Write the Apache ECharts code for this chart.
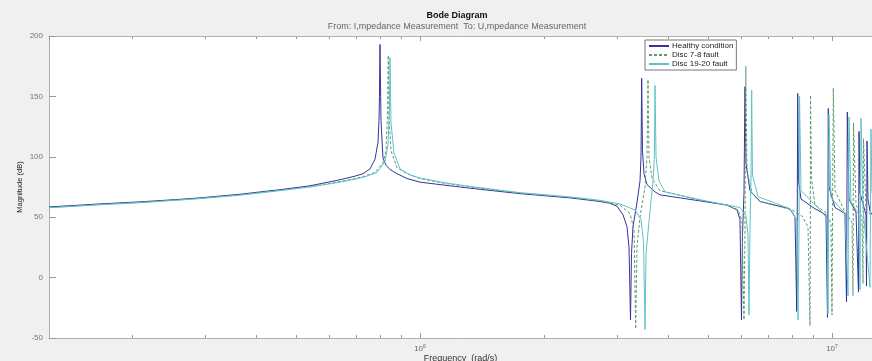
<!DOCTYPE html>
<html>
<head>
<meta charset="utf-8">
<script src="https://cdn.jsdelivr.net/npm/echarts@6/dist/echarts.min.js"></script>
<style>
  html, body { margin: 0; padding: 0; background: #f0f0f0; }
  #chart { width: 872px; height: 361px; }
</style>
</head>
<body>
<div id="chart"></div>
<script>
// [frequency (rad/s), magnitude (dB)]
const healthy = [
  [1.258e5, 58.5], [1.672e5, 61], [2.091e5, 62.7], [2.615e5, 64.8], [2.924e5, 66],
  [3.658e5, 69], [4.574e5, 72.8], [5.407e5, 76], [6.395e5, 81], [6.954e5, 84],
  [7.272e5, 86], [7.562e5, 90], [7.776e5, 98], [7.908e5, 112], [7.952e5, 130],
  [7.974e5, 150], [7.996e5, 193], [8.041e5, 130], [8.131e5, 99], [8.269e5, 93],
  [8.456e5, 89.5], [8.794e5, 86], [9.300e5, 82], [1.000e6, 79], [1.150e6, 76.5],
  [1.323e6, 74], [1.749e6, 69.5], [2.313e6, 66], [2.734e6, 63], [2.892e6, 61.5],
  [3.008e6, 59], [3.110e6, 52], [3.180e6, 42], [3.216e6, 25], [3.243e6, -35],
  [3.261e6, 20], [3.288e6, 42], [3.362e6, 62], [3.420e6, 80], [3.439e6, 100],
  [3.452e6, 165], [3.468e6, 105], [3.497e6, 86], [3.556e6, 77], [3.719e6, 71],
  [3.824e6, 68.5], [4.782e6, 63.5], [5.563e6, 60], [5.883e6, 56], [5.979e6, 48],
  [6.030e6, -35], [6.064e6, 35], [6.115e6, 70], [6.149e6, 158], [6.183e6, 95],
  [6.323e6, 72], [6.687e6, 63], [7.908e6, 57], [8.132e6, 50], [8.210e6, -28],
  [8.233e6, 45], [8.256e6, 152.5], [8.293e6, 80], [8.410e6, 65], [9.093e6, 57],
  [9.670e6, 52], [9.751e6, -33], [9.795e6, 140], [9.834e6, 75], [1.0169e7, 58],
  [1.0754e7, 53], [1.0844e7, -20], [1.0893e7, 137], [1.0997e7, 65], [1.1436e7, 54],
  [1.1596e7, -12], [1.1629e7, 121], [1.1694e7, 70], [1.2093e7, 52], [1.2127e7, -7],
  [1.2161e7, 113], [1.2229e7, 65], [1.2366e7, 55], [1.2505e7, 52]
];

const disc78 = [
  [1.258e5, 58], [1.672e5, 60.5], [2.091e5, 62.3], [2.615e5, 64.4], [2.924e5, 65.6],
  [3.658e5, 68.5], [4.574e5, 72.2], [5.407e5, 75.2], [6.395e5, 79.5], [6.954e5, 82],
  [7.272e5, 83.5], [7.776e5, 87], [8.131e5, 95], [8.269e5, 105], [8.339e5, 135],
  [8.376e5, 184], [8.409e5, 135], [8.503e5, 105], [8.794e5, 91], [9.300e5, 86],
  [1.000e6, 82], [1.150e6, 78], [1.323e6, 75], [1.749e6, 70], [2.313e6, 66.5],
  [2.734e6, 63.5], [3.058e6, 60], [3.234e6, 53], [3.307e6, 40], [3.338e6, -42.5],
  [3.362e6, 25], [3.420e6, 50], [3.517e6, 75], [3.556e6, 100], [3.576e6, 164],
  [3.596e6, 100], [3.657e6, 82], [3.824e6, 72], [4.782e6, 64], [5.563e6, 60],
  [5.915e6, 56], [6.047e6, 47], [6.115e6, -35], [6.149e6, 40], [6.176e6, 175],
  [6.218e6, 88], [6.394e6, 70], [6.687e6, 63], [7.997e6, 56], [8.457e6, 51],
  [8.745e6, 42], [8.843e6, -40], [8.858e6, 35], [8.868e6, 151], [8.918e6, 82],
  [9.093e6, 60], [9.670e6, 54], [9.944e6, 45], [1.000e7, -31], [1.0073e7, 157],
  [1.0169e7, 72], [1.0754e7, 54], [1.1183e7, 46], [1.1245e7, -15], [1.1277e7, 128],
  [1.1436e7, 60], [1.1825e7, 50], [1.1892e7, -5], [1.1925e7, 115], [1.2093e7, 56],
  [1.2505e7, 51]
];

const disc1920 = [
  [1.258e5, 57.8], [1.672e5, 60.3], [2.091e5, 62], [2.615e5, 64.2], [2.924e5, 65.4],
  [3.658e5, 68.2], [4.574e5, 72], [5.407e5, 75], [6.395e5, 79], [6.954e5, 81.5],
  [7.272e5, 83], [7.864e5, 87], [8.222e5, 96], [8.362e5, 110], [8.432e5, 140],
  [8.456e5, 182], [8.503e5, 128], [8.647e5, 103], [8.943e5, 90], [9.457e5, 85],
  [1.000e6, 82.5], [1.150e6, 78.5], [1.323e6, 75.5], [1.749e6, 70.3], [2.313e6, 66.8],
  [2.734e6, 64], [3.058e6, 61], [3.325e6, 56], [3.439e6, 48], [3.487e6, 30],
  [3.517e6, -43], [3.536e6, 20], [3.616e6, 55], [3.678e6, 80], [3.705e6, 100],
  [3.719e6, 159], [3.740e6, 100], [3.803e6, 80], [3.933e6, 71], [4.782e6, 64.5],
  [5.979e6, 58], [6.183e6, 51], [6.253e6, 35], [6.288e6, -31], [6.323e6, 40],
  [6.358e6, 80], [6.383e6, 155], [6.412e6, 85], [6.612e6, 67], [7.908e6, 57],
  [8.224e6, 47], [8.270e6, -35], [8.317e6, 40], [8.340e6, 150], [8.410e6, 72],
  [9.352e6, 56], [9.724e6, 49], [9.779e6, -30], [9.834e6, 135], [9.944e6, 66],
  [1.0754e7, 53], [1.0935e7, -15], [1.0997e7, 133], [1.1120e7, 63], [1.1629e7, 52],
  [1.1694e7, -10], [1.1760e7, 132], [1.1892e7, 58], [1.2366e7, -8], [1.2435e7, 123],
  [1.2505e7, 70]
];

const seriesNames = ['Healthy condition', 'Disc 7-8 fault', 'Disc 19-20 fault'];
const yTicks = [-50, 200, 50];           // min, max, step
const xRange = [1.2575e5, 1.2505e7];
const minorTicks = [2e5, 3e5, 4e5, 5e5, 6e5, 7e5, 8e5, 9e5, 2e6, 3e6, 4e6, 5e6, 6e6, 7e6, 8e6, 9e6];

const FONT = '"Liberation Sans", Arial, sans-serif';
const chart = echarts.init(document.getElementById('chart'));

const logAxis = {
  type: 'log',
  logBase: 10,
  min: xRange[0],
  max: xRange[1],
  splitLine: { show: false }
};

const option = {
  animation: false,
  backgroundColor: '#f0f0f0',
  textStyle: { fontFamily: FONT },
  title: {
    text: 'Bode Diagram',
    subtext: 'From: I,mpedance Measurement  To: U,mpedance Measurement',
    left: 457,
    top: 11,
    textAlign: 'center',
    itemGap: 2,
    padding: 0,
    textStyle: { fontSize: 9, fontWeight: 'bold', color: '#111', fontFamily: FONT },
    subtextStyle: { fontSize: 9, color: '#666', fontFamily: FONT }
  },
  legend: {
    data: seriesNames,
    orient: 'vertical',
    left: 645,
    top: 40,
    itemWidth: 20,
    itemHeight: 7,
    itemGap: 1,
    padding: [2, 3, 2, 3],
    backgroundColor: '#fff',
    borderColor: '#777',
    borderWidth: 1,
    borderRadius: 0,
    itemStyle: { opacity: 0 },
    textStyle: { fontSize: 8, color: '#222', fontFamily: FONT, padding: [0, 0, 0, -2] }
  },
  grid: {
    show: true,
    left: 49,
    top: 36,
    right: 0,
    height: 302,
    containLabel: false,
    outerBoundsMode: 'none',
    backgroundColor: '#fff',
    borderWidth: 0
  },
  xAxis: [
    Object.assign({}, logAxis, {
      position: 'bottom',
      name: 'Frequency  (rad/s)',
      nameLocation: 'middle',
      nameGap: 16,
      nameMoveOverlap: false,
      nameTextStyle: { fontSize: 9, color: '#333', fontFamily: FONT },
      axisLine: { onZero: false, lineStyle: { color: '#b0b0b0' } },
      axisTick: { inside: true, length: 5, lineStyle: { color: '#999' } },
      axisLabel: {
        margin: 6,
        showMinLabel: false,
        showMaxLabel: false,
        color: '#666',
        fontSize: 8,
        formatter: v => '10{sup|' + Math.round(Math.log10(v)) + '}',
        rich: { sup: { fontSize: 5, padding: [0, 0, 5, 0], color: '#666' } }
      }
    }),
    Object.assign({}, logAxis, {
      position: 'top',
      axisLine: { onZero: false, lineStyle: { color: '#b0b0b0' } },
      axisTick: { inside: true, length: 5, lineStyle: { color: '#999' } },
      axisLabel: { show: false }
    })
  ],
  yAxis: {
    type: 'value',
    min: yTicks[0],
    max: yTicks[1],
    interval: yTicks[2],
    name: 'Magnitude (dB)',
    nameLocation: 'middle',
    nameRotate: 90,
    nameGap: 25,
    nameMoveOverlap: false,
    nameTextStyle: { fontSize: 7.5, color: '#222', fontFamily: FONT },
    axisLine: { show: true, onZero: false, lineStyle: { color: '#b0b0b0' } },
    axisTick: { show: true, inside: true, length: 7, lineStyle: { color: '#999' } },
    axisLabel: { color: '#777', fontSize: 8, margin: 6 },
    splitLine: { show: false }
  },
  series: [
    {
      name: seriesNames[0], type: 'line', data: healthy, symbol: 'none',
      sampling: 'none', clip: true,
      color: '#34349a',
      lineStyle: { width: 1, color: '#34349a' }
    },
    {
      name: seriesNames[1], type: 'line', data: disc78, symbol: 'none',
      sampling: 'none', clip: true,
      color: '#5f9a6c',
      lineStyle: { width: 1, color: '#5f9a6c', type: [3, 2] }
    },
    {
      name: seriesNames[2], type: 'line', data: disc1920, symbol: 'none',
      sampling: 'none', clip: true,
      color: '#5ec2c8',
      lineStyle: { width: 1, color: '#5ec2c8' }
    }
  ]
};

chart.setOption(option);

// minor ticks top and bottom, like the MATLAB box
const yTop = chart.convertToPixel({ yAxisIndex: 0 }, yTicks[1]);
const yBot = chart.convertToPixel({ yAxisIndex: 0 }, yTicks[0]);
const tickEls = [];
minorTicks.forEach(v => {
  const x = Math.round(chart.convertToPixel({ xAxisIndex: 0 }, v)) + 0.5;
  tickEls.push({ type: 'line', silent: true, shape: { x1: x, y1: yBot, x2: x, y2: yBot - 3 }, style: { stroke: '#999', lineWidth: 1 } });
  tickEls.push({ type: 'line', silent: true, shape: { x1: x, y1: yTop, x2: x, y2: yTop + 3 }, style: { stroke: '#999', lineWidth: 1 } });
});
chart.setOption({ graphic: tickEls });
</script>
</body>
</html>
